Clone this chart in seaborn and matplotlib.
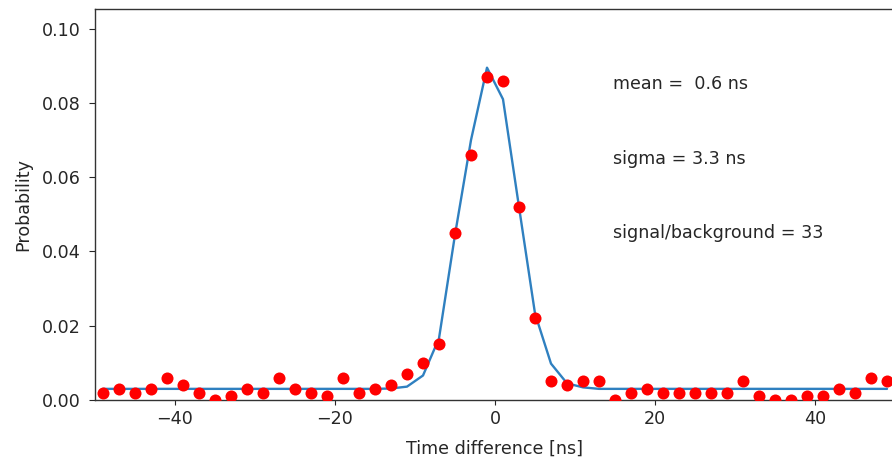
import matplotlib
matplotlib.use("Agg")
import matplotlib.pyplot as plt
import seaborn as sns
import pandas as pd

# bin centres of the time difference histogram [ns]
time_ns = list(range(-49, 50, 2))

# measured probability per bin (red points)
prob = [0.002, 0.003, 0.002, 0.003, 0.006, 0.004, 0.002, 0.000, 0.001, 0.003,
        0.002, 0.006, 0.003, 0.002, 0.001, 0.006, 0.002, 0.003, 0.004, 0.007,
        0.010, 0.015, 0.045, 0.066, 0.087, 0.086, 0.052, 0.022, 0.005, 0.004,
        0.005, 0.005, 0.000, 0.002, 0.003, 0.002, 0.002, 0.002, 0.002, 0.002,
        0.005, 0.001, 0.000, 0.000, 0.001, 0.001, 0.003, 0.002, 0.006, 0.005]

# fitted curve evaluated at the same bins (blue line)
fit = [0.003, 0.003, 0.003, 0.003, 0.003, 0.003, 0.003, 0.003, 0.003, 0.003,
       0.003, 0.003, 0.003, 0.003, 0.003, 0.003, 0.003, 0.003, 0.0031, 0.0036,
       0.0066, 0.0166, 0.0445, 0.070, 0.0895, 0.081, 0.052, 0.0233, 0.0098, 0.0045,
       0.0034, 0.003, 0.003, 0.003, 0.003, 0.003, 0.003, 0.003, 0.003, 0.003,
       0.003, 0.003, 0.003, 0.003, 0.003, 0.003, 0.003, 0.003, 0.003, 0.003]

fit_labels = ["mean =  0.6 ns", "sigma = 3.3 ns", "signal/background = 33"]
label_y = [0.085, 0.065, 0.045]

df = pd.DataFrame({"time": time_ns, "prob": prob, "fit": fit})

sns.set_style("ticks")
plt.rcParams["font.family"] = ["DejaVu Sans"]
fs = 12.6

fig = plt.figure(figsize=(8.92, 4.61), dpi=100)
ax = fig.add_axes([95 / 892, 61 / 461, 800 / 892, 391 / 461])

sns.lineplot(data=df, x="time", y="fit", color="#2f80c0", linewidth=1.7, ax=ax)
sns.scatterplot(data=df, x="time", y="prob", color="red", s=75, linewidth=0, ax=ax, zorder=3)

for lab, yy in zip(fit_labels, label_y):
    ax.text(14.8, yy, lab, va="center", fontsize=fs, color="#262626")

ax.set_xlim(-50, 50)
ax.set_ylim(0, 0.1053)
ax.set_xticks([-40, -20, 0, 20, 40])
ax.set_yticks([0.0, 0.02, 0.04, 0.06, 0.08, 0.10])
ax.set_yticklabels(["0.00", "0.02", "0.04", "0.06", "0.08", "0.10"])
ax.set_xlabel("Time difference [ns]", fontsize=fs, color="#262626", labelpad=9)
ax.set_ylabel("Probability", fontsize=fs, color="#262626", labelpad=7)
for sp in ax.spines.values():
    sp.set_color("#333333")
    sp.set_linewidth(1.0)
ax.tick_params(labelsize=fs, colors="#262626")
ax.tick_params(axis="y", length=4.5, pad=5.5)

fig.savefig("out.png", dpi=100)
